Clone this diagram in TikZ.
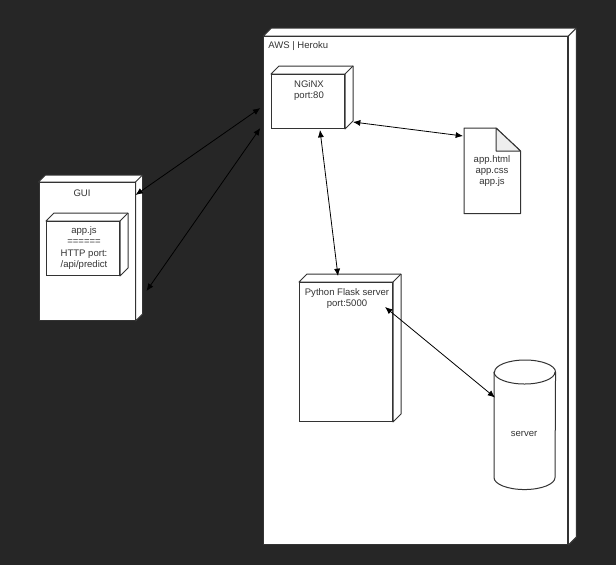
\documentclass[tikz,border=0pt]{standalone}
\usepackage{fontspec}
\setmainfont{Liberation Sans}
\usetikzlibrary{arrows.meta,calc}

\definecolor{bgdark}{HTML}{262626}
\definecolor{linedark}{HTML}{333333}
\definecolor{foldgray}{HTML}{EEEEEE}

\tikzset{
    boxnode/.style={draw=linedark, fill=white, line width=0.75pt, anchor=north west, inner sep=0pt,
        append after command={\pgfextra{
            \draw[linedark, fill=white, line width=0.75pt, line join=round]
                (\tikzlastnode.north west) -- ++(#1,-#1) -- ([shift={(#1,-#1)}]\tikzlastnode.north east)
                -- ([shift={(#1,-#1)}]\tikzlastnode.south east) -- (\tikzlastnode.south east)
                -- (\tikzlastnode.north east) -- cycle;
            \draw[linedark, line width=0.75pt] (\tikzlastnode.north east) -- ++(#1,-#1);
        }}},
    boxlabel/.style={text=linedark, font=\fontsize{7.15}{8.45}\selectfont, align=center, inner sep=0pt},
    link/.style={{Latex[length=5.5pt,width=4.6pt]}-{Latex[length=5.5pt,width=4.6pt]}, black, line width=0.6pt}
}

\begin{document}
\begin{tikzpicture}[x=0.75pt,y=-0.75pt]
    % background
    \fill[bgdark] (0,0) rectangle (616,565);
    \useasboundingbox (0,0) rectangle (616,565);

    % AWS side
    \node[boxnode=8, minimum width=228pt, minimum height=381pt] (aws) at (263.3,36) {};
    \node[boxlabel, anchor=west] (awstext) at (268,46) {AWS | Heroku};

    % GUI side
    \node[boxnode=7, minimum width=72pt, minimum height=103.5pt] (gui) at (38.5,182) {};
    \node[boxlabel] (guitext) at (82,193) {GUI};
    \node[boxnode=8, minimum width=54.75pt, minimum height=40.5pt] (appjs) at (46,221) {};
    \node[boxlabel, anchor=north] (appjstext) at (84,226.5) {app.js\\======\\HTTP port:\\/api/predict};

    % NGiNX
    \node[boxnode=8, minimum width=54.75pt, minimum height=40.5pt] (nginx) at (271,74) {};
    \node[boxlabel, anchor=north] (nginxtext) at (309,80) {NGiNX\\port:80};

    % static files
    \node[anchor=north west, inner sep=0pt, minimum width=42pt, minimum height=63.75pt] (files) at (464,128) {};
    \draw[linedark, fill=white, line width=0.75pt, line join=round] (files.north west) -- ++(32,0)
        -- ($(files.north east)+(0,23)$) -- (files.south east) -- (files.south west) -- cycle;
    \draw[linedark, fill=foldgray, line width=0.75pt, line join=round] ($(files.north west)+(32,0)$)
        -- ($(files.north east)+(0,23)$) -- ($(files.north west)+(32,23)$) -- cycle;
    \node[boxlabel, anchor=north] (filestext) at (492,155) {app.html\\app.css\\app.js};

    % Flask
    \node[boxnode=8, minimum width=69.75pt, minimum height=104.25pt] (flask) at (299,282) {};
    \node[boxlabel, anchor=north] (flasktext) at (347,288) {Python Flask server\\port:5000};

    % database
    \node[anchor=north west, inner sep=0pt, minimum width=45.75pt, minimum height=96.75pt] (db) at (494,360) {};
    \draw[linedark, fill=white, line width=0.75pt] ($(db.north west)+(0,12)$) -- ($(db.south west)+(0,-12)$)
        arc[start angle=180, end angle=360, x radius=22.875pt, y radius=9pt]
        -- ($(db.north east)+(0,12)$)
        arc[start angle=0, end angle=180, x radius=22.875pt, y radius=9pt] -- cycle;
    \draw[linedark, line width=0.75pt] ($(db.north west)+(0,12)$)
        arc[start angle=180, end angle=360, x radius=22.875pt, y radius=9pt];
    \node[boxlabel] (dbtext) at (524,434) {server};

    % arrows
    \draw[link] ($(gui.north east)+(0,13)$) -- ($(aws.north west)+(-3,72)$);
    \draw[link] ($(gui.south east)+(11,-30)$) -- ($(aws.north west)+(-3,92)$);
    \draw[link] ($(nginx.south east)+(8,-7)$) -- ($(files.north west)+(-1,8)$);
    \draw[link] ($(nginx.south)+(12,1)$) -- ($(flask.north)+(-8,-6)$);
    \draw[link] ($(flask.north east)+(-8,25)$) -- ($(db.south west)+(1,-92)$);
\end{tikzpicture}
\end{document}
